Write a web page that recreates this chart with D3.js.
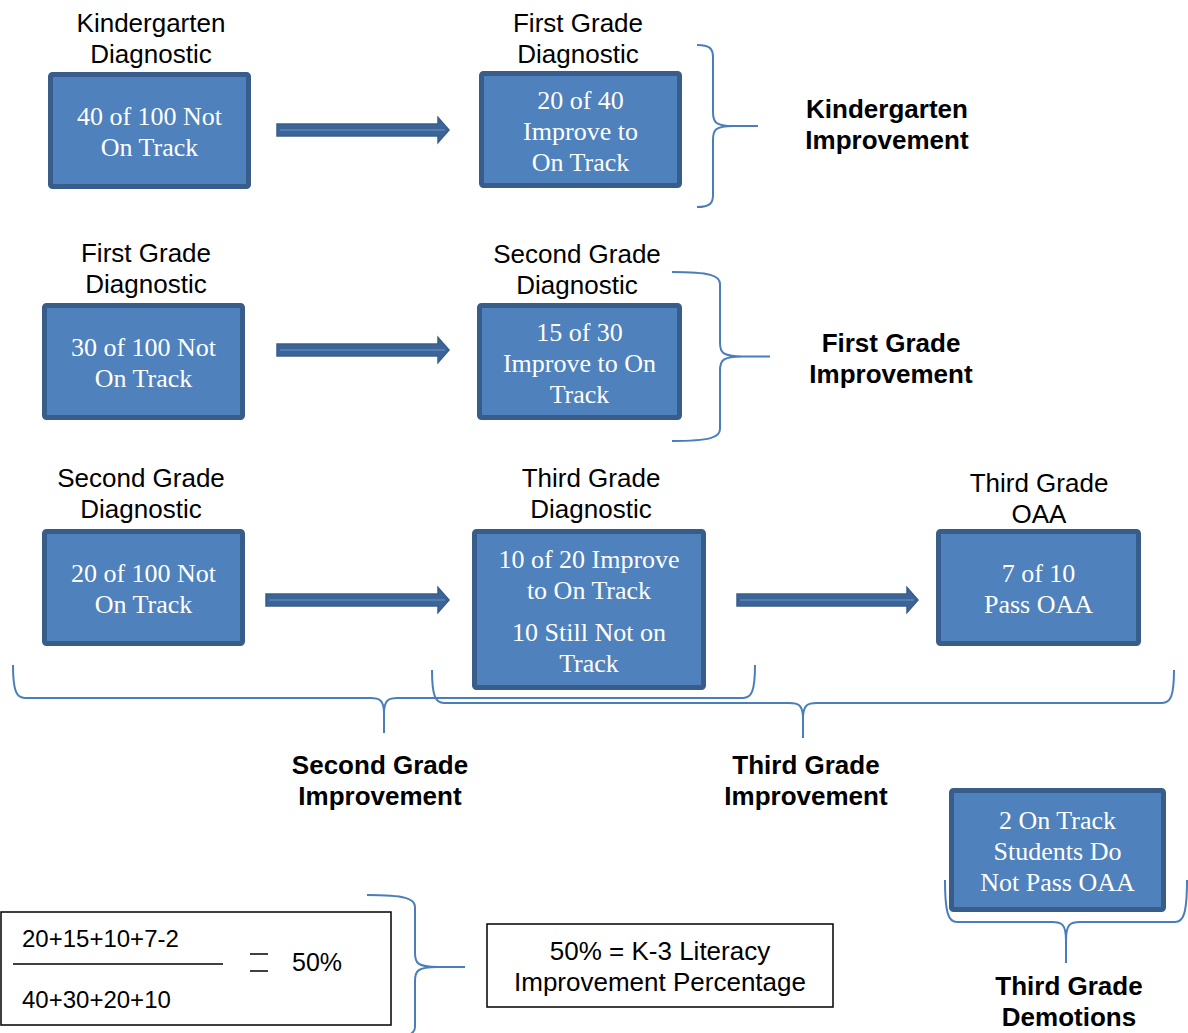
<!DOCTYPE html>
<html>
<head>
<meta charset="utf-8">
<script src="https://cdn.jsdelivr.net/npm/d3@7"></script>
<style>
  body { margin: 0; background: #fff; }
  svg { display: block; }
  .head { font-family: Arial, "Liberation Sans", sans-serif; font-size: 26px; fill: #000; }
  .bold { font-family: Arial, "Liberation Sans", sans-serif; font-size: 26px; font-weight: bold; fill: #000; }
  .boxtext { font-family: "Times New Roman", "Liberation Serif", serif; font-size: 26px; fill: #fff; }
  .formula { font-family: Arial, "Liberation Sans", sans-serif; font-size: 24px; fill: #000; }
</style>
</head>
<body>
<script>
/*
* K-3 literacy improvement flow diagram
*/

// text content
let headings = [
  ['Kindergarten', 'Diagnostic'],
  ['First Grade', 'Diagnostic'],
  ['First Grade', 'Diagnostic'],
  ['Second Grade', 'Diagnostic'],
  ['Second Grade', 'Diagnostic'],
  ['Third Grade', 'Diagnostic'],
  ['Third Grade', 'OAA']
];

let boxTexts = [
  [['40 of 100 Not', 'On Track']],
  [['20 of 40', 'Improve to', 'On Track']],
  [['30 of 100 Not', 'On Track']],
  [['15 of 30', 'Improve to On', 'Track']],
  [['20 of 100 Not', 'On Track']],
  [['10 of 20 Improve', 'to On Track'], ['10 Still Not on', 'Track']],
  [['7 of 10', 'Pass OAA']],
  [['2 On Track', 'Students Do', 'Not Pass OAA']]
];

let braceLabels = [
  ['Kindergarten', 'Improvement'],
  ['First Grade', 'Improvement'],
  ['Second Grade', 'Improvement'],
  ['Third Grade', 'Improvement'],
  ['Third Grade', 'Demotions']
];

let numerator = '20+15+10+7-2';
let denominator = '40+30+20+10';
let resultValue = '50%';
let resultLabel = ['50% = K-3 Literacy', 'Improvement Percentage'];

// layout (pixels)
let headingPos = [[151, 23], [578, 23], [146, 253], [577, 254], [141, 478], [591, 478], [1039, 483]];
let boxPos = [
  [48, 72, 203, 117], [479, 71, 203, 117],
  [42, 303, 203, 117], [477, 303, 205, 117],
  [42, 529, 203, 117], [472, 529, 234, 161], [936, 529, 205, 117],
  [949, 788, 217, 124]
];
let arrowPos = [[277, 449, 130], [277, 449, 350], [266, 449, 600], [737, 918, 600]];
// braces: x, y, length, depth, tip, orientation
let bracePos = [
  [697, 45, 162, 16, 45, 'right'],
  [672, 272, 169, 48, 50, 'right'],
  [13, 665, 742, 33, 35, 'down'],
  [432, 670, 742, 33, 35, 'down'],
  [945, 880, 242, 42, 41, 'down'],
  [367, 895, 144, 48, 50, 'right']
];
let braceLabelPos = [[887, 124], [891, 358], [380, 780], [806, 780], [1069, 1001]];

let COLORS = {
  fill: '#4F81BD',
  border: '#385D8A',
  arrow: '#3D6496',
  stripe: '#5A86BD',
  brace: '#4A7EBB'
};

let lineH = 31;

window.onload = function () {
  let svg = d3.select('body').append('svg')
    .attr('width', 1188)
    .attr('height', 1033);

  drawHeadings(svg);
  drawBoxes(svg);
  drawArrows(svg);
  drawBraces(svg);
  drawFormula(svg);
};

function drawHeadings(svg) {
  let g = svg.append('g').attr('class', 'headings');
  headings.forEach(function (lines, i) {
    let t = g.append('text')
      .attr('class', 'head')
      .attr('text-anchor', 'middle');
    lines.forEach(function (l, j) {
      t.append('tspan')
        .attr('x', headingPos[i][0])
        .attr('y', headingPos[i][1] + j * lineH)
        .attr('dy', '0.35em')
        .text(l);
    });
  });
}

function drawBoxes(svg) {
  let g = svg.append('g').attr('class', 'boxes');
  let box = g.selectAll('.box').data(boxTexts).enter().append('g').attr('class', 'box');

  box.append('rect')
    .attr('x', (d, i) => boxPos[i][0] + 2.5)
    .attr('y', (d, i) => boxPos[i][1] + 2.5)
    .attr('width', (d, i) => boxPos[i][2] - 5)
    .attr('height', (d, i) => boxPos[i][3] - 5)
    .attr('rx', 2)
    .style('fill', COLORS.fill)
    .style('stroke', COLORS.border)
    .style('stroke-width', 5);

  box.each(function (paras, i) {
    let cx = boxPos[i][0] + boxPos[i][2] / 2;
    let cy = boxPos[i][1] + boxPos[i][3] / 2;
    let gap = 11;
    let nLines = d3.sum(paras, p => p.length);
    let total = (nLines - 1) * lineH + (paras.length - 1) * gap;
    let y = cy - total / 2 + 1;
    let t = d3.select(this).append('text')
      .attr('class', 'boxtext')
      .attr('text-anchor', 'middle');
    paras.forEach(function (p) {
      p.forEach(function (l) {
        t.append('tspan').attr('x', cx).attr('y', y).attr('dy', '0.35em').text(l);
        y += lineH;
      });
      y += gap;
    });
  });
}

function drawArrows(svg) {
  let g = svg.append('g').attr('class', 'arrows');
  arrowPos.forEach(function (a) {
    let x0 = a[0], x1 = a[1], y = a[2];
    let sh = 6, hh = 12.5, hl = 11;
    let pts = [
      [x0, y - sh], [x1 - hl, y - sh], [x1 - hl, y - hh], [x1, y],
      [x1 - hl, y + hh], [x1 - hl, y + sh], [x0, y + sh]
    ];
    g.append('path')
      .attr('d', d3.line()(pts) + 'Z')
      .style('fill', COLORS.arrow)
      .style('stroke', COLORS.border)
      .style('stroke-width', 1.5)
      .style('stroke-linejoin', 'miter');
    // lighter stripe along the shaft
    g.append('line')
      .attr('x1', x0 + 3).attr('x2', x1 - 4)
      .attr('y1', y).attr('y2', y)
      .style('stroke', COLORS.stripe)
      .style('stroke-width', 1.5);
  });
}

function bracePath(len, depth, tip, orient) {
  let rEnd = Math.min(12, depth), rTip = Math.min(14, tip);
  let mid = len / 2;
  let pt = orient === 'right' ? (u, v) => [v, u] : (u, v) => [u, v];
  let d = 'M' + pt(0, 0) +
    'C' + pt(0, depth * 0.8) + ' ' + pt(rEnd * 0.3, depth) + ' ' + pt(rEnd, depth) +
    'L' + pt(mid - rTip, depth) +
    'C' + pt(mid - rTip * 0.3, depth) + ' ' + pt(mid, depth + 2) + ' ' + pt(mid, depth + tip * 0.45) +
    'L' + pt(mid, depth + tip) +
    'M' + pt(mid, depth + tip * 0.45) +
    'C' + pt(mid, depth + 2) + ' ' + pt(mid + rTip * 0.3, depth) + ' ' + pt(mid + rTip, depth) +
    'L' + pt(len - rEnd, depth) +
    'C' + pt(len - rEnd * 0.3, depth) + ' ' + pt(len, depth * 0.8) + ' ' + pt(len, 0);
  return d;
}

function drawBraces(svg) {
  let g = svg.append('g').attr('class', 'braces');
  bracePos.forEach(function (b) {
    g.append('path')
      .attr('transform', 'translate(' + b[0] + ',' + b[1] + ')')
      .attr('d', bracePath(b[2], b[3], b[4], b[5]))
      .style('fill', 'none')
      .style('stroke', COLORS.brace)
      .style('stroke-width', 2);
  });

  braceLabels.forEach(function (lines, i) {
    let t = g.append('text')
      .attr('class', 'bold')
      .attr('text-anchor', 'middle');
    lines.forEach(function (l, j) {
      t.append('tspan')
        .attr('x', braceLabelPos[i][0])
        .attr('y', braceLabelPos[i][1] + (j - 0.5) * lineH)
        .attr('dy', '0.35em')
        .text(l);
    });
  });
}

function drawFormula(svg) {
  let g = svg.append('g').attr('class', 'formula-group');

  g.append('rect')
    .attr('x', 1).attr('y', 912)
    .attr('width', 390).attr('height', 113)
    .style('fill', '#fff')
    .style('stroke', '#000')
    .style('stroke-width', 1.5);

  g.append('text').attr('class', 'formula')
    .attr('x', 22).attr('y', 939).attr('dy', '0.35em').text(numerator);
  g.append('line')
    .attr('x1', 13).attr('x2', 223).attr('y1', 964).attr('y2', 964)
    .style('stroke', '#000').style('stroke-width', 1.5);
  g.append('text').attr('class', 'formula')
    .attr('x', 22).attr('y', 1000).attr('dy', '0.35em').text(denominator);

  // equals sign drawn as two strokes
  [954, 971].forEach(function (y) {
    g.append('line')
      .attr('x1', 250).attr('x2', 268).attr('y1', y).attr('y2', y)
      .style('stroke', '#000').style('stroke-width', 1.5);
  });
  g.append('text').attr('class', 'formula')
    .style('font-size', '25px')
    .attr('x', 292).attr('y', 962).attr('dy', '0.35em').text(resultValue);

  g.append('rect')
    .attr('x', 487).attr('y', 924)
    .attr('width', 346).attr('height', 83)
    .style('fill', '#fff')
    .style('stroke', '#000')
    .style('stroke-width', 1.5);

  let t = g.append('text').attr('class', 'head').attr('text-anchor', 'middle');
  resultLabel.forEach(function (l, j) {
    t.append('tspan')
      .attr('x', 660)
      .attr('y', 951 + j * lineH)
      .attr('dy', '0.35em')
      .text(l);
  });
}
</script>
</body>
</html>
